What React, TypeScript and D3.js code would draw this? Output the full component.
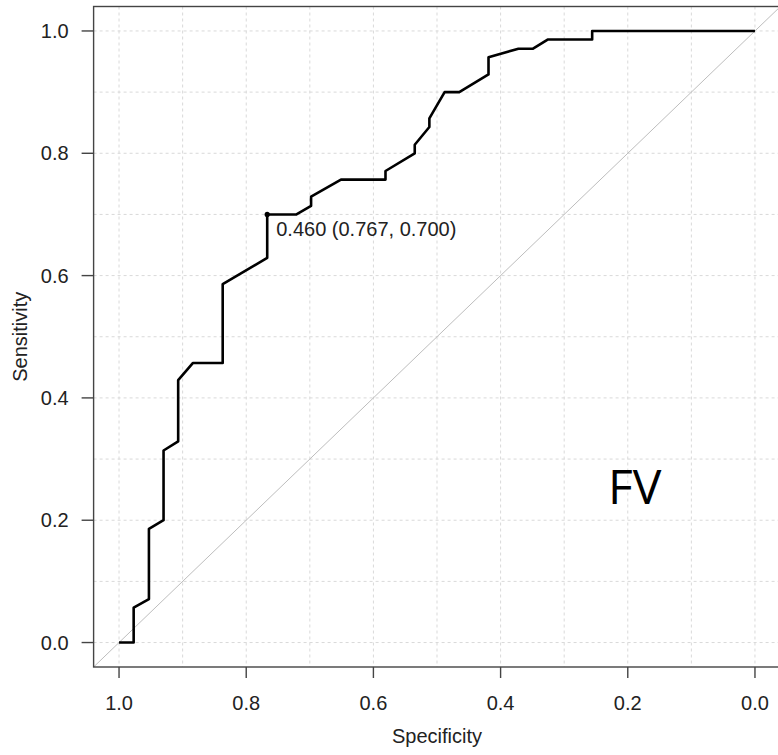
import React from "react";
import * as d3 from "d3";

const specificity = [
  1.0, 0.977, 0.977, 0.953, 0.953, 0.93, 0.93, 0.907, 0.907, 0.884, 0.837, 0.837,
  0.767, 0.767, 0.721, 0.698, 0.698, 0.651, 0.581, 0.581, 0.535, 0.535, 0.512,
  0.512, 0.488, 0.465, 0.419, 0.419, 0.372, 0.349, 0.326, 0.256, 0.256, 0.0,
];
const sensitivity = [
  0.0, 0.0, 0.057, 0.071, 0.186, 0.2, 0.314, 0.329, 0.429, 0.457, 0.457, 0.586,
  0.629, 0.7, 0.7, 0.714, 0.729, 0.757, 0.757, 0.771, 0.8, 0.814, 0.843, 0.857,
  0.9, 0.9, 0.929, 0.957, 0.971, 0.971, 0.986, 0.986, 1.0, 1.0,
];
const tickValues = [0, 0.2, 0.4, 0.6, 0.8, 1.0];
const gridValues = [0, 0.1, 0.2, 0.3, 0.4, 0.5, 0.6, 0.7, 0.8, 0.9, 1.0];
const bestThreshold = { threshold: 0.46, spec: 0.767, sens: 0.7 };
const panelLabel = "FV";

const W = 778;
const H = 755;

export default function App() {
  const x = d3.scaleLinear().domain([1.04, -0.04]).range([93.6, 780.4]);
  const y = d3.scaleLinear().domain([-0.04, 1.04]).range([667, 6.5]);
  const x0 = x.range()[0];
  const x1 = x.range()[1];
  const y0 = y.range()[0];
  const y1 = y.range()[1];

  const pts: [number, number][] = specificity.map((s, i) => [s, sensitivity[i]]);
  const line = d3
    .line<[number, number]>()
    .x((d) => x(d[0]))
    .y((d) => y(d[1]));

  const fmt = d3.format(".1f");
  const fmt3 = d3.format(".3f");
  const font = "'Liberation Sans', Arial, sans-serif";
  const fs = 20;

  return (
    <svg
      width={W}
      height={H}
      style={{ position: "absolute", left: 0, top: 0, background: "#fff" }}
    >
      <defs>
        <clipPath id="plotclip">
          <rect x={x0} y={y1} width={x1 - x0} height={y0 - y1} />
        </clipPath>
      </defs>
      {/* grid */}
      <g stroke="#d9d9d9" strokeWidth={1} strokeDasharray="3,3">
        {gridValues.map((v) => (
          <line key={"gx" + v} x1={x(v)} x2={x(v)} y1={y1} y2={y0} />
        ))}
        {gridValues.map((v) => (
          <line key={"gy" + v} x1={x0} x2={x1} y1={y(v)} y2={y(v)} />
        ))}
      </g>
      {/* diagonal */}
      <g clipPath="url(#plotclip)">
        <line
          x1={x(1.04)}
          y1={y(-0.04)}
          x2={x(-0.04)}
          y2={y(1.04)}
          stroke="#bdbdbd"
          strokeWidth={1}
        />
      </g>
      {/* ROC curve */}
      <path
        d={line(pts) || ""}
        fill="none"
        stroke="#000"
        strokeWidth={2.6}
        strokeLinejoin="round"
      />
      <circle cx={x(bestThreshold.spec)} cy={y(bestThreshold.sens)} r={2.6} fill="#000" />
      <text
        x={x(bestThreshold.spec) + 9}
        y={y(bestThreshold.sens) + 22}
        fontFamily={font}
        fontSize={fs}
        fill="#222"
      >
        {`${fmt3(bestThreshold.threshold)} (${fmt3(bestThreshold.spec)}, ${fmt3(
          bestThreshold.sens
        )})`}
      </text>
      {/* box */}
      <rect
        x={x0}
        y={y1}
        width={x1 - x0}
        height={y0 - y1}
        fill="none"
        stroke="#444"
        strokeWidth={1.4}
      />
      {/* axes */}
      <g fontFamily={font} fontSize={fs} fill="#222">
        {tickValues.map((v) => (
          <g key={"yt" + v}>
            <line x1={x0 - 12} x2={x0} y1={y(v)} y2={y(v)} stroke="#444" strokeWidth={1.4} />
            <text x={x0 - 25} y={y(v)} dy="0.36em" textAnchor="end">
              {fmt(v)}
            </text>
          </g>
        ))}
        {tickValues.map((v) => (
          <g key={"xt" + v}>
            <line x1={x(v)} x2={x(v)} y1={y0} y2={y0 + 11} stroke="#444" strokeWidth={1.4} />
            <text x={x(v)} y={710} textAnchor="middle">
              {fmt(v)}
            </text>
          </g>
        ))}
        <text x={437} y={743} textAnchor="middle">
          Specificity
        </text>
        <text
          transform={`translate(27, ${(y0 + y1) / 2}) rotate(-90)`}
          textAnchor="middle"
        >
          Sensitivity
        </text>
      </g>
      <text x={608} y={504} fontFamily="'Open Sans', 'Noto Sans', sans-serif" fontSize={48} fill="#000">
        {panelLabel}
      </text>
    </svg>
  );
}
